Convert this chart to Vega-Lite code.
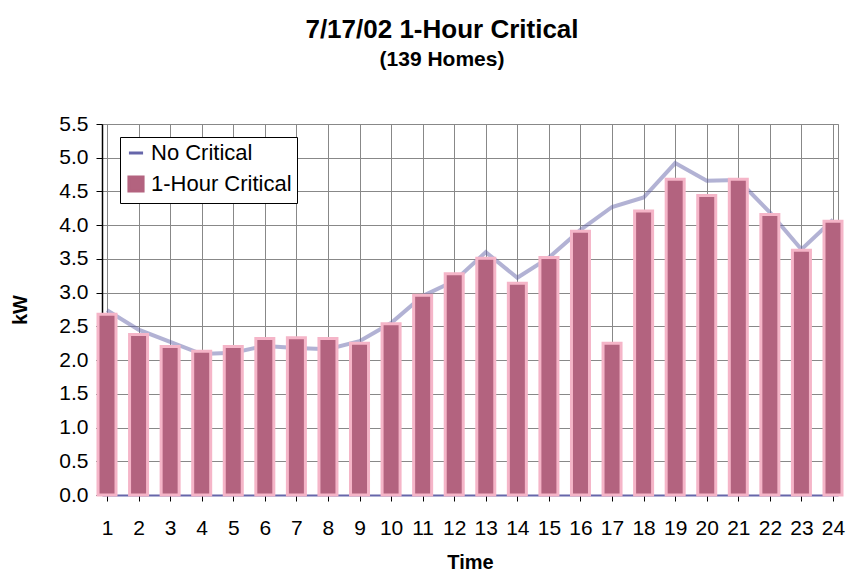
{
  "$schema": "https://vega.github.io/schema/vega-lite/v6.json",
  "width": 736,
  "height": 371,
  "autosize": {"type": "none"},
  "padding": {"left": 102, "top": 124, "right": 12, "bottom": 80},
  "background": "white",
  "title": {
    "text": "7/17/02 1-Hour Critical",
    "subtitle": "(139 Homes)",
    "font": "Liberation Sans",
    "fontSize": 26,
    "fontWeight": "bold",
    "color": "black",
    "subtitleFont": "Liberation Sans",
    "subtitleFontSize": 21,
    "subtitleFontWeight": "bold",
    "subtitleColor": "black",
    "subtitlePadding": 6,
    "anchor": "middle",
    "dx": -28,
    "offset": 43
  },
  "config": {
    "view": {"stroke": "#888888", "strokeWidth": 1},
    "axis": {
      "labelFont": "Liberation Sans",
      "labelFontSize": 21,
      "labelColor": "black",
      "labelOverlap": false,
      "titleFont": "Liberation Sans",
      "titleFontSize": 20,
      "titleFontWeight": "bold",
      "titleColor": "black",
      "gridColor": "#888888",
      "gridWidth": 1,
      "gridOpacity": 1,
      "tickColor": "black",
      "tickSize": 6
    }
  },
  "data": {
    "values": [
      {"hour": 1, "critical": 2.68, "nocritical": 2.74},
      {"hour": 2, "critical": 2.38, "nocritical": 2.45},
      {"hour": 3, "critical": 2.20, "nocritical": 2.27},
      {"hour": 4, "critical": 2.13, "nocritical": 2.09},
      {"hour": 5, "critical": 2.20, "nocritical": 2.11},
      {"hour": 6, "critical": 2.32, "nocritical": 2.21},
      {"hour": 7, "critical": 2.33, "nocritical": 2.18},
      {"hour": 8, "critical": 2.32, "nocritical": 2.16},
      {"hour": 9, "critical": 2.25, "nocritical": 2.28},
      {"hour": 10, "critical": 2.54, "nocritical": 2.55},
      {"hour": 11, "critical": 2.96, "nocritical": 2.95},
      {"hour": 12, "critical": 3.28, "nocritical": 3.17},
      {"hour": 13, "critical": 3.51, "nocritical": 3.60},
      {"hour": 14, "critical": 3.14, "nocritical": 3.22},
      {"hour": 15, "critical": 3.52, "nocritical": 3.52},
      {"hour": 16, "critical": 3.91, "nocritical": 3.93},
      {"hour": 17, "critical": 2.25, "nocritical": 4.27},
      {"hour": 18, "critical": 4.21, "nocritical": 4.41},
      {"hour": 19, "critical": 4.68, "nocritical": 4.92},
      {"hour": 20, "critical": 4.44, "nocritical": 4.66},
      {"hour": 21, "critical": 4.68, "nocritical": 4.67},
      {"hour": 22, "critical": 4.16, "nocritical": 4.19},
      {"hour": 23, "critical": 3.63, "nocritical": 3.64},
      {"hour": 24, "critical": 4.06, "nocritical": 4.08}
    ]
  },
  "encoding": {
    "x": {
      "field": "hour",
      "type": "quantitative",
      "scale": {"domain": [1, 24], "nice": false, "zero": false},
      "axis": {
        "title": "Time",
        "values": [1,2,3,4,5,6,7,8,9,10,11,12,13,14,15,16,17,18,19,20,21,22,23,24],
        "format": "d",
        "labelOverlap": false,
        "domainColor": "#6666AA",
        "domainWidth": 2,
        "labelPadding": 16,
        "titlePadding": 14
      }
    }
  },
  "layer": [
    {
      "mark": {"type": "line", "strokeWidth": 4, "strokeOpacity": 0.5},
      "encoding": {
        "y": {
          "field": "nocritical",
          "type": "quantitative",
          "scale": {"domain": [0, 5.5], "nice": false},
          "axis": {
            "title": "kW",
            "values": [0,0.5,1,1.5,2,2.5,3,3.5,4,4.5,5,5.5],
            "format": ".1f",
            "labelOverlap": false,
            "domainColor": "black",
            "domainWidth": 1.5,
            "labelPadding": 8,
            "titlePadding": 28
          }
        },
        "color": {
          "datum": "No Critical",
          "type": "nominal",
          "scale": {"domain": ["No Critical", "1-Hour Critical"], "range": ["#6666AA", "#B3637F"]},
          "legend": {
            "orient": "none",
            "legendX": 18,
            "legendY": 13,
            "title": null,
            "fillColor": "white",
            "strokeColor": "black",
            "padding": 5,
            "labelFont": "Liberation Sans",
            "labelFontSize": 22,
            "labelColor": "black",
            "labelOffset": 4,
            "symbolSize": 200,
            "rowPadding": 6,
            "encode": {
              "symbols": {
                "update": {
                  "shape": {"signal": "datum.value === 'No Critical' ? 'stroke' : 'square'"},
                  "strokeWidth": {"value": 3},
                  "opacity": {"value": 1},
                  "strokeOpacity": {"value": 1}
                }
              }
            }
          }
        }
      }
    },
    {
      "mark": {"type": "bar", "width": 18, "stroke": "#F5B5C8", "strokeWidth": 3, "fillOpacity": 1},
      "encoding": {
        "y": {
          "field": "critical",
          "type": "quantitative",
          "axis": {
            "title": "kW",
            "values": [0,0.5,1,1.5,2,2.5,3,3.5,4,4.5,5,5.5],
            "format": ".1f",
            "labelOverlap": false,
            "domainColor": "black",
            "domainWidth": 1.5,
            "labelPadding": 8,
            "titlePadding": 28
          }
        },
        "color": {"datum": "1-Hour Critical", "type": "nominal"}
      }
    }
  ]
}
